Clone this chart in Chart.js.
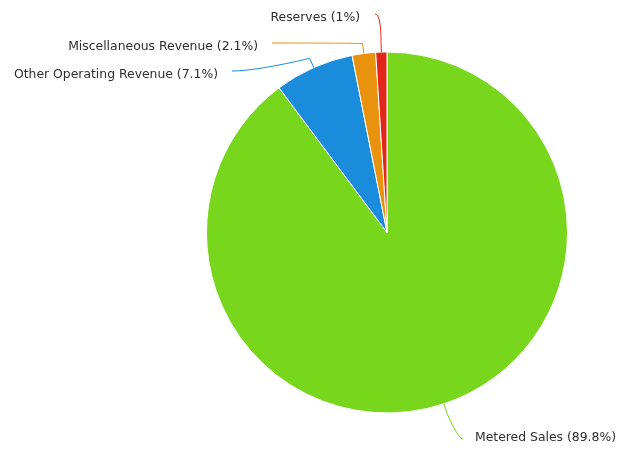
<!DOCTYPE html>
<html>
<head>
<meta charset="utf-8">
<script src="https://cdn.jsdelivr.net/npm/chart.js@4.4.1/dist/chart.umd.min.js"></script>
<style>
  html, body { margin: 0; padding: 0; background: #fff; }
  #wrap { width: 617px; height: 451px; position: relative; }
</style>
</head>
<body>
<div id="wrap"><canvas id="pie"></canvas></div>
<script>
// revenue split, clockwise from 12 o'clock
const categories = ["Metered Sales", "Other Operating Revenue", "Miscellaneous Revenue", "Reserves"];
const shares = [89.8, 7.1, 2.1, 1];
const sliceColors = ["#78d61c", "#1b8cdc", "#e8920e", "#e3261b"];

// where each label sits, where its connector ends and how hard the connector bends
const labelSpots = [
  { tx: 475, ty: 438, align: "left",  lx: 463, ly: 439, bend: 0.3 },
  { tx: 218, ty: 75,  align: "right", lx: 232, ly: 71,  bend: 0.3 },
  { tx: 258, ty: 47,  align: "right", lx: 272, ly: 43,  bend: 0.9 },
  { tx: 360, ty: 18,  align: "right", lx: 375, ly: 14,  bend: 1 }
];

const pieLabels = {
  id: "pieLabels",
  afterDatasetsDraw(chart) {
    const ctx = chart.ctx;
    const meta = chart.getDatasetMeta(0);
    meta.data.forEach((arc, i) => {
      const spot = labelSpots[i];
      if (!spot) return;
      const { x, y, outerRadius, startAngle, endAngle } = arc.getProps(["x", "y", "outerRadius", "startAngle", "endAngle"], true);
      const mid = (startAngle + endAngle) / 2;
      const ex = x + Math.cos(mid) * outerRadius;
      const ey = y + Math.sin(mid) * outerRadius;
      const bx = x + Math.cos(mid) * (outerRadius + 10);
      const by = y + Math.sin(mid) * (outerRadius + 10);
      const cx = spot.lx + (bx - spot.lx) * spot.bend;
      const cy = spot.ly;

      ctx.save();
      ctx.strokeStyle = sliceColors[i];
      ctx.lineWidth = 1;
      ctx.beginPath();
      ctx.moveTo(ex, ey);
      ctx.lineTo(bx, by);
      ctx.quadraticCurveTo(cx, cy, spot.lx, spot.ly);
      ctx.stroke();

      ctx.fillStyle = "#2e2e2e";
      ctx.font = "12.4px 'DejaVu Sans'";
      ctx.textAlign = spot.align;
      ctx.textBaseline = "middle";
      ctx.fillText(categories[i] + " (" + shares[i] + "%)", spot.tx, spot.ty);
      ctx.restore();
    });
  }
};

new Chart(document.getElementById("pie"), {
  type: "pie",
  data: {
    labels: categories,
    datasets: [{
      data: shares,
      backgroundColor: sliceColors,
      borderColor: "#ffffff",
      borderWidth: 1
    }]
  },
  options: {
    responsive: true,
    maintainAspectRatio: false,
    animation: false,
    layout: { padding: { left: 206, right: 49, top: 51, bottom: 37 } },
    plugins: {
      legend: { display: false },
      tooltip: { enabled: false }
    }
  },
  plugins: [pieLabels]
});
</script>
</body>
</html>
